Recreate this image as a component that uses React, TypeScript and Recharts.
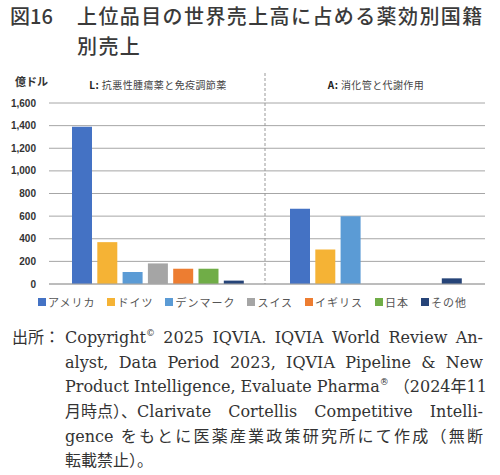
import React from 'react';
import { BarChart, Bar, CartesianGrid, XAxis, YAxis, Legend } from 'recharts';

const categories = ['L', 'A'];
const groupLabels = ['L: 抗悪性腫瘍薬と免疫調節薬', 'A: 消化管と代謝作用'];
const countries = ['アメリカ', 'ドイツ', 'デンマーク', 'スイス', 'イギリス', '日本', 'その他'];
const usa = [1390, 665];
const germany = [370, 305];
const denmark = [105, 600];
const switzerland = [182, 0];
const uk = [135, 0];
const japan = [135, 0];
const others = [30, 50];
const yTicks = [0, 200, 400, 600, 800, 1000, 1200, 1400, 1600];
const colors = ['#4472C4', '#F5B335', '#5B9BD5', '#A5A5A5', '#ED7D31', '#70AD47', '#264478'];

const seriesValues = [usa, germany, denmark, switzerland, uk, japan, others];
const seriesKeys = ['usa', 'germany', 'denmark', 'switzerland', 'uk', 'japan', 'others'];

const data = categories.map((cat, i) => {
  const row: Record<string, string | number> = { cat, label: groupLabels[i] };
  seriesKeys.forEach((k, j) => {
    row[k] = seriesValues[j][i];
  });
  return row;
});

const sansJP = '"Noto Sans CJK JP", "Noto Sans", sans-serif';
const serif = '"DejaVu Serif", "Noto Sans CJK JP", serif';

function GroupTick({ x, y, payload }: any) {
  const [prefix, rest] = String(payload.value).split(': ');
  return (
    <text x={x} y={y - 14} textAnchor="middle" fontSize={10} fill="#444" fontFamily={sansJP} letterSpacing={0.4}>
      <tspan fontWeight="bold" fill="#222">{prefix}: </tspan>
      <tspan>{rest}</tspan>
    </text>
  );
}

// legend keeps the series order (recharts 3 sorts payload by name otherwise)
function CountryLegend() {
  return (
    <div style={{ display: 'flex', justifyContent: 'center', paddingLeft: 32, fontFamily: sansJP, fontSize: 11, color: '#555', letterSpacing: 1 }}>
      {countries.map((name, j) => (
        <span key={name} style={{ display: 'flex', alignItems: 'center', marginRight: 12 }}>
          <span style={{ width: 8, height: 8, background: colors[j], marginRight: 2, display: 'inline-block' }} />
          <span>{name}</span>
        </span>
      ))}
    </div>
  );
}

const lineStyle: React.CSSProperties = {
  height: 24.7,
  whiteSpace: 'nowrap',
  textAlign: 'justify',
  textAlignLast: 'justify',
};

const supStyle: React.CSSProperties = { fontSize: 9, verticalAlign: 'baseline', position: 'relative', top: -7, lineHeight: 0 };
const keep: React.CSSProperties = { display: 'inline-block' };

export default function App() {
  return (
    <div style={{ position: 'absolute', left: 0, top: 0, width: 500, height: 475, background: '#fff', overflow: 'hidden' }}>
      <div style={{ position: 'absolute', left: 10, top: 1, fontFamily: sansJP, fontSize: 20, fontWeight: 500, color: '#3a3a3a', lineHeight: '30px' }}>
        <div>
          <span style={{ display: 'inline-block', width: 67 }}>図16</span>
          <span style={{ letterSpacing: 1.4 }}>上位品目の世界売上高に占める薬効別国籍</span>
        </div>
        <div style={{ paddingLeft: 67, letterSpacing: 1.4 }}>別売上</div>
      </div>

      <div style={{ position: 'absolute', left: 0, top: 0 }}>
        <BarChart
          width={500}
          height={320}
          data={data}
          margin={{ top: 78, right: 15, bottom: 2, left: 0 }}
          barSize={20}
          barGap={5.3}
        >
          <CartesianGrid vertical={false} stroke="#a6a6a6" />
          <XAxis dataKey="cat" tick={false} tickLine={false} axisLine={{ stroke: '#a6a6a6' }} height={10} />
          <XAxis
            xAxisId="top"
            orientation="top"
            dataKey="label"
            axisLine={false}
            tickLine={false}
            tickSize={0}
            tickMargin={0}
            height={25}
            tick={<GroupTick />}
          />
          <YAxis
            domain={[0, 1600]}
            ticks={yTicks}
            interval={0}
            axisLine={false}
            tickLine={false}
            tickSize={0}
            tickMargin={13}
            width={49}
            tickFormatter={(v) => Number(v).toLocaleString('en-US')}
            tick={{ fontSize: 10, fontWeight: 'bold', fill: '#333', fontFamily: '"Liberation Sans", Arial, sans-serif' }}
          />
          <Legend verticalAlign="bottom" height={24} content={<CountryLegend />} />
          {seriesKeys.map((k, j) => (
            <Bar key={k} dataKey={k} name={countries[j]} fill={colors[j]} isAnimationActive={false} />
          ))}
        </BarChart>
      </div>

      <svg width={500} height={320} style={{ position: 'absolute', left: 0, top: 0, pointerEvents: 'none' }}>
        <line x1={265} x2={265} y1={73} y2={284} stroke="#999" strokeDasharray="3 2" />
        <text x={15} y={86} fontSize={11} fontWeight="bold" fill="#333" fontFamily={sansJP}>億ドル</text>
      </svg>

      <div style={{ position: 'absolute', left: 12, top: 326, fontFamily: serif, fontSize: 16, color: '#333', lineHeight: '24.7px' }}>
        <div style={{ height: 24.7, whiteSpace: 'nowrap' }}>出所：</div>
      </div>
      <div style={{ position: 'absolute', left: 65, top: 326, width: 418, fontFamily: serif, fontSize: 16, color: '#333', lineHeight: '24.7px' }}>
        <div style={lineStyle}>
          Copyright<span style={supStyle}>©</span> 2025 IQVIA. IQVIA World Review An-
        </div>
        <div style={lineStyle}>alyst, Data Period 2023, IQVIA Pipeline &amp; New</div>
        <div style={lineStyle}>
          Product Intelligence, Evaluate Pharma<span style={supStyle}>®</span> <span style={keep}>（2024年11</span>
        </div>
        <div style={lineStyle}>
          <span style={keep}>月時点）、</span>Clarivate Cortellis Competitive Intelli-
        </div>
        <div style={lineStyle}>gence をもとに医薬産業政策研究所にて作成（無断</div>
        <div style={{ height: 24.7 }}>転載禁止）。</div>
      </div>
    </div>
  );
}
